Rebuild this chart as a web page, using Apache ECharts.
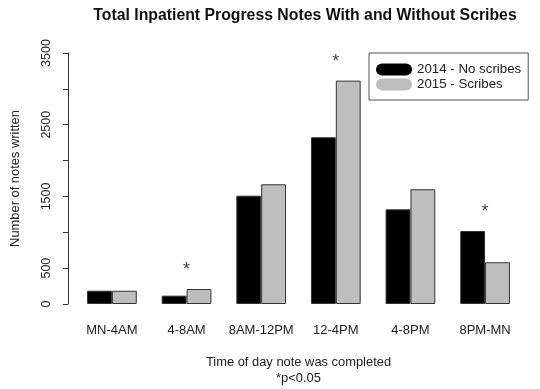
<!DOCTYPE html>
<html><head><meta charset="utf-8">
<script src="https://cdn.jsdelivr.net/npm/echarts@6/dist/echarts.min.js"></script>
<style>html,body{margin:0;padding:0;background:#fff}#c{width:540px;height:389px}</style>
</head><body><div id="c"></div>
<script>
var categories = ['MN-4AM','4-8AM','8AM-12PM','12-4PM','4-8PM','8PM-MN'];
var notes2014 = [185, 116, 1510, 2325, 1320, 1018];
var notes2015 = [185, 209, 1669, 3115, 1600, 582];
var significant = [false, true, false, true, false, true];
var yTickLabels = [0, 500, 1500, 2500, 3500];
var seriesNames = ['2014 - No scribes', '2015 - Scribes'];

var starData = categories.map(function(c,i){
  return significant[i] ? Math.max(notes2014[i], notes2015[i]) : null;
});
var font = 'Liberation Sans, Arial, sans-serif';
var chart = echarts.init(document.getElementById('c'), null, {renderer:'canvas'});
chart.setOption({
  animation:false,
  backgroundColor:'#fff',
  title:{
    text:'Total Inpatient Progress Notes With and Without Scribes',
    left:300, top:3, textAlign:'center',
    textStyle:{fontFamily:font, fontSize:15.8, fontWeight:'bold', color:'#111'}
  },
  legend:{
    orient:'vertical', left:369, top:53,
    data:seriesNames,
    icon:'path://M6,0 H30 A6,6 0 0 1 30,12 H6 A6,6 0 0 1 6,0 Z',
    itemWidth:36, itemHeight:13, itemGap:2,
    padding:[10,7,9,7],
    borderColor:'#555', borderWidth:1,
    itemStyle:{borderWidth:0},
    textStyle:{fontFamily:font, fontSize:13.3, color:'#222', padding:[0,0,0,0]}
  },
  grid:{left:74.6, right:17.6, top:53, bottom:85, containLabel:false, outerBoundsMode:'none'},
  xAxis:{
    type:'category', data:categories,
    name:'Time of day note was completed\n*p<0.05',
    nameLocation:'middle', nameGap:50,
    nameTextStyle:{fontFamily:font, fontSize:12.9, color:'#222', lineHeight:16},
    axisLine:{show:false}, axisTick:{show:false},
    axisLabel:{interval:0, fontFamily:font, fontSize:13, color:'#222', margin:20}
  },
  yAxis:{
    type:'value', min:0, max:3500, interval:500, offset:6.6,
    name:'Number of notes written', nameLocation:'middle', nameGap:46,
    nameTextStyle:{fontFamily:font, fontSize:12.9, color:'#222'},
    splitLine:{show:false},
    axisLine:{show:true, lineStyle:{color:'#333', width:1}},
    axisTick:{show:true, length:5, lineStyle:{color:'#333'}},
    axisLabel:{
      rotate:90, margin:15, fontFamily:font, fontSize:12.5, color:'#222',
      formatter:function(v){ return yTickLabels.indexOf(v) >= 0 ? String(v) : ''; }
    }
  },
  series:[
    {name:seriesNames[0], type:'bar', data:notes2014, barGap:'0%', barCategoryGap:'33.4%',
     itemStyle:{color:'#000', borderColor:'#333', borderWidth:1}},
    {name:seriesNames[1], type:'bar', data:notes2015, barGap:'0%', barCategoryGap:'33.4%',
     itemStyle:{color:'#bebebe', borderColor:'#333', borderWidth:1}},
    {name:'sig', type:'scatter', data:starData, symbolSize:0, silent:true,
     label:{show:true, position:'top', distance:10, formatter:'*',
       fontFamily:font, fontSize:18, color:'#111'}}
  ]
});
</script></body></html>
